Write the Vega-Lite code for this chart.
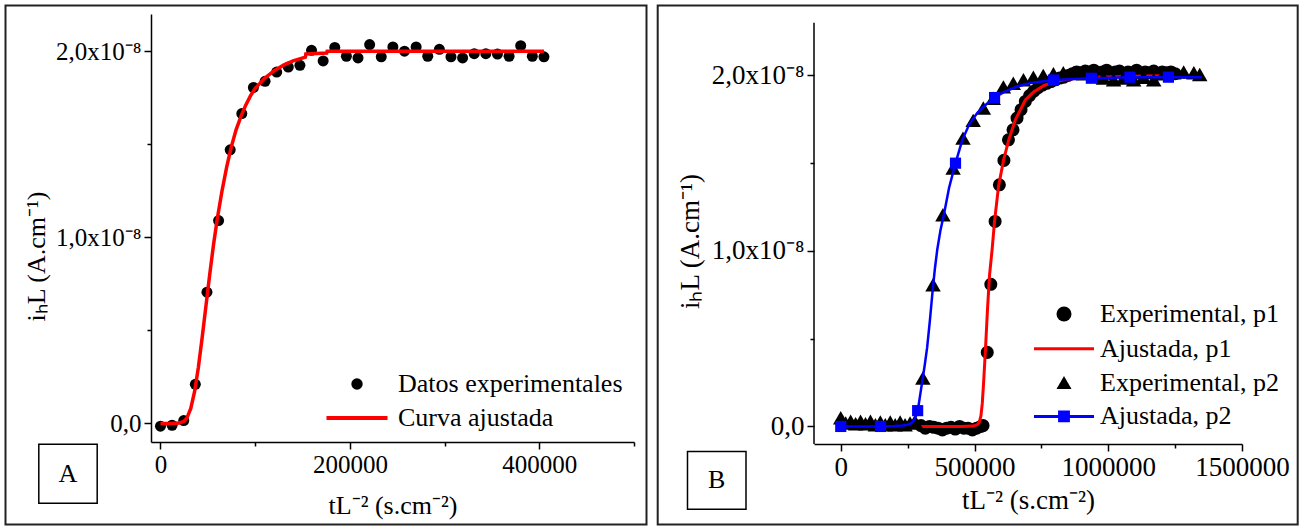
{
  "$schema": "https://vega.github.io/schema/vega-lite/v6.json",
  "padding": {"left": 4, "top": 4, "right": 4, "bottom": 4},
  "spacing": 8,
  "config": {
    "view": {"stroke": null},
    "font": "Liberation Serif",
    "axis": {"labelFont": "Liberation Serif", "titleFont": "Liberation Serif", "labelColor": "black", "titleColor": "black", "titleFontWeight": "normal", "domainColor": "black", "tickColor": "black", "domainWidth": 1.5, "tickWidth": 1.5, "grid": false, "labelFlush": false, "labelOverlap": false, "labelBound": false},
    "legend": {"labelFont": "Liberation Serif", "labelColor": "black", "labelLimit": 0, "padding": 0}
  },
  "datasets": {
    "expA": [
      {"x": 0, "y": -1.5e-10}, {"x": 12270, "y": -1e-10}, {"x": 24540, "y": 1.5e-10}, {"x": 36810, "y": 2.1e-9},
      {"x": 49080, "y": 7.05e-9}, {"x": 61350, "y": 1.09e-8}, {"x": 73620, "y": 1.47e-8}, {"x": 85890, "y": 1.665e-8},
      {"x": 98160, "y": 1.805e-8}, {"x": 110430, "y": 1.838e-8}, {"x": 122700, "y": 1.888e-8}, {"x": 134970, "y": 1.915e-8},
      {"x": 147240, "y": 1.924e-8}, {"x": 159510, "y": 2.005e-8}, {"x": 171780, "y": 1.948e-8}, {"x": 184050, "y": 2.02e-8},
      {"x": 196320, "y": 1.973e-8}, {"x": 208590, "y": 1.964e-8}, {"x": 220860, "y": 2.036e-8}, {"x": 233130, "y": 1.97e-8},
      {"x": 245400, "y": 2.023e-8}, {"x": 257670, "y": 2.0e-8}, {"x": 269940, "y": 2.023e-8}, {"x": 282210, "y": 1.973e-8},
      {"x": 294480, "y": 2.01e-8}, {"x": 306750, "y": 1.97e-8}, {"x": 319020, "y": 1.964e-8}, {"x": 331290, "y": 1.987e-8},
      {"x": 343560, "y": 1.987e-8}, {"x": 355830, "y": 1.985e-8}, {"x": 368100, "y": 1.973e-8}, {"x": 380370, "y": 2.03e-8},
      {"x": 392640, "y": 1.973e-8}, {"x": 404910, "y": 1.97e-8}
    ],
    "fitA": [
      {"x": 0, "y": 0}, {"x": 10000, "y": 0}, {"x": 20000, "y": 2e-11}, {"x": 25000, "y": 1.2e-10}, {"x": 28000, "y": 3e-10},
      {"x": 32000, "y": 8e-10}, {"x": 36000, "y": 1.7e-9}, {"x": 40000, "y": 3e-9}, {"x": 44000, "y": 4.6e-9}, {"x": 48000, "y": 6.3e-9},
      {"x": 52000, "y": 8e-9}, {"x": 56000, "y": 9.6e-9}, {"x": 60000, "y": 1.1e-8}, {"x": 65000, "y": 1.25e-8}, {"x": 70000, "y": 1.38e-8},
      {"x": 75000, "y": 1.49e-8}, {"x": 80000, "y": 1.58e-8}, {"x": 85000, "y": 1.65e-8}, {"x": 90000, "y": 1.71e-8}, {"x": 95000, "y": 1.76e-8},
      {"x": 100000, "y": 1.8e-8}, {"x": 110000, "y": 1.855e-8}, {"x": 120000, "y": 1.895e-8}, {"x": 130000, "y": 1.925e-8},
      {"x": 140000, "y": 1.948e-8}, {"x": 153000, "y": 1.968e-8}, {"x": 153500, "y": 1.985e-8}, {"x": 175500, "y": 1.99e-8},
      {"x": 176000, "y": 2.0e-8}, {"x": 405000, "y": 2.0e-8}
    ],
    "expB1": [
      {"x": 300000, "y": 5e-11}, {"x": 316000, "y": -1e-10}, {"x": 332000, "y": 0}, {"x": 348000, "y": -5e-11},
      {"x": 364000, "y": -1e-10}, {"x": 380000, "y": -2e-10}, {"x": 396000, "y": -1e-10}, {"x": 412000, "y": -5e-11},
      {"x": 428000, "y": -1.5e-10}, {"x": 444000, "y": 0}, {"x": 460000, "y": -1e-10}, {"x": 476000, "y": -1e-10},
      {"x": 492000, "y": -2e-10}, {"x": 508000, "y": -1e-10}, {"x": 524000, "y": 0}, {"x": 532000, "y": 5e-11},
      {"x": 547700, "y": 4.22e-9}, {"x": 561000, "y": 8.1e-9}, {"x": 577000, "y": 1.168e-8}, {"x": 593000, "y": 1.377e-8},
      {"x": 610000, "y": 1.516e-8}, {"x": 627000, "y": 1.633e-8}, {"x": 644000, "y": 1.69e-8}, {"x": 659000, "y": 1.757e-8},
      {"x": 674000, "y": 1.805e-8}, {"x": 690000, "y": 1.852e-8}, {"x": 706000, "y": 1.885e-8}, {"x": 722000, "y": 1.91e-8},
      {"x": 738000, "y": 1.93e-8}, {"x": 754000, "y": 1.945e-8}, {"x": 770000, "y": 1.955e-8}, {"x": 786000, "y": 1.965e-8},
      {"x": 802000, "y": 1.975e-8}, {"x": 818000, "y": 1.985e-8}, {"x": 834000, "y": 1.99e-8}, {"x": 850000, "y": 2.0e-8},
      {"x": 866000, "y": 2.01e-8}, {"x": 882000, "y": 2.02e-8}, {"x": 898000, "y": 2.015e-8}, {"x": 914000, "y": 2.025e-8},
      {"x": 930000, "y": 2.02e-8}, {"x": 946000, "y": 2.03e-8}, {"x": 962000, "y": 2.015e-8}, {"x": 978000, "y": 2.02e-8},
      {"x": 994000, "y": 2.03e-8}, {"x": 1010000, "y": 2.01e-8}, {"x": 1026000, "y": 2.02e-8}, {"x": 1042000, "y": 2.025e-8},
      {"x": 1058000, "y": 2.0e-8}, {"x": 1074000, "y": 2.02e-8}, {"x": 1090000, "y": 2.015e-8}, {"x": 1106000, "y": 2.03e-8},
      {"x": 1122000, "y": 2.01e-8}, {"x": 1138000, "y": 2.02e-8}, {"x": 1154000, "y": 2.015e-8}, {"x": 1170000, "y": 2.025e-8},
      {"x": 1186000, "y": 2.01e-8}, {"x": 1202000, "y": 2.02e-8}, {"x": 1218000, "y": 2.015e-8}, {"x": 1234000, "y": 2.02e-8},
      {"x": 1250000, "y": 2.01e-8}
    ],
    "fitB1": [
      {"x": 300000, "y": 0}, {"x": 450000, "y": 0}, {"x": 495000, "y": 2e-11}, {"x": 510000, "y": 1e-10}, {"x": 518000, "y": 2.5e-10},
      {"x": 524000, "y": 6e-10}, {"x": 529000, "y": 1.3e-9}, {"x": 534000, "y": 2.5e-9}, {"x": 541000, "y": 4.4e-9}, {"x": 548000, "y": 6.5e-9},
      {"x": 556000, "y": 8.6e-9}, {"x": 566000, "y": 1.01e-8}, {"x": 575000, "y": 1.17e-8}, {"x": 590000, "y": 1.37e-8},
      {"x": 609000, "y": 1.52e-8}, {"x": 628000, "y": 1.633e-8}, {"x": 653000, "y": 1.748e-8}, {"x": 690000, "y": 1.86e-8},
      {"x": 720000, "y": 1.905e-8}, {"x": 757000, "y": 1.94e-8}, {"x": 800000, "y": 1.965e-8}, {"x": 850000, "y": 1.98e-8},
      {"x": 950000, "y": 1.99e-8}, {"x": 1100000, "y": 1.995e-8}, {"x": 1250000, "y": 2.0e-8}
    ],
    "expB2": [
      {"x": 0, "y": 5e-10}, {"x": 18500, "y": 2e-10}, {"x": 37000, "y": 3e-10}, {"x": 55500, "y": 1.5e-10},
      {"x": 74000, "y": 3e-10}, {"x": 92500, "y": 1.5e-10}, {"x": 111000, "y": 3e-10}, {"x": 129500, "y": 1e-10},
      {"x": 148000, "y": 2.5e-10}, {"x": 166500, "y": 1e-10}, {"x": 185000, "y": 2.5e-10}, {"x": 203500, "y": 1e-10},
      {"x": 222000, "y": 2.5e-10}, {"x": 240500, "y": 1e-10}, {"x": 259000, "y": 2e-10}, {"x": 277500, "y": 3e-10},
      {"x": 307000, "y": 2.76e-9}, {"x": 345000, "y": 8.07e-9}, {"x": 382000, "y": 1.206e-8}, {"x": 420000, "y": 1.472e-8},
      {"x": 457000, "y": 1.643e-8}, {"x": 495000, "y": 1.744e-8}, {"x": 533000, "y": 1.814e-8}, {"x": 570000, "y": 1.87e-8},
      {"x": 608000, "y": 1.935e-8}, {"x": 645000, "y": 1.955e-8}, {"x": 683000, "y": 1.975e-8}, {"x": 720000, "y": 1.99e-8},
      {"x": 757000, "y": 2.0e-8}, {"x": 795000, "y": 2.01e-8}, {"x": 832000, "y": 2.015e-8}, {"x": 870000, "y": 2.015e-8},
      {"x": 907000, "y": 2.01e-8}, {"x": 945000, "y": 2.0e-8}, {"x": 982000, "y": 1.985e-8}, {"x": 1020000, "y": 1.975e-8},
      {"x": 1057000, "y": 1.985e-8}, {"x": 1095000, "y": 1.975e-8}, {"x": 1132000, "y": 1.99e-8}, {"x": 1170000, "y": 1.975e-8},
      {"x": 1207000, "y": 2.01e-8}, {"x": 1245000, "y": 2.015e-8}, {"x": 1282000, "y": 2.02e-8}, {"x": 1320000, "y": 2.015e-8},
      {"x": 1342000, "y": 2.005e-8}
    ],
    "fitB2": [
      {"x": 0, "y": 0}, {"x": 150000, "y": 0}, {"x": 200000, "y": 2e-11}, {"x": 230000, "y": 6e-11}, {"x": 250000, "y": 1e-10},
      {"x": 265000, "y": 2e-10}, {"x": 274000, "y": 3.8e-10}, {"x": 281000, "y": 6e-10}, {"x": 287500, "y": 9e-10}, {"x": 293000, "y": 1.4e-9},
      {"x": 299000, "y": 2e-9}, {"x": 305000, "y": 2.6e-9}, {"x": 314000, "y": 3.5e-9}, {"x": 323000, "y": 4.5e-9}, {"x": 333000, "y": 6e-9},
      {"x": 342000, "y": 7.5e-9}, {"x": 352000, "y": 9e-9}, {"x": 361000, "y": 1.01e-8}, {"x": 373000, "y": 1.12e-8}, {"x": 386000, "y": 1.21e-8},
      {"x": 405000, "y": 1.36e-8}, {"x": 429000, "y": 1.5e-8}, {"x": 454000, "y": 1.63e-8}, {"x": 480000, "y": 1.72e-8},
      {"x": 510000, "y": 1.786e-8}, {"x": 540000, "y": 1.83e-8}, {"x": 575000, "y": 1.874e-8}, {"x": 610000, "y": 1.905e-8},
      {"x": 659000, "y": 1.937e-8}, {"x": 709000, "y": 1.957e-8}, {"x": 795000, "y": 1.974e-8}, {"x": 937000, "y": 1.984e-8},
      {"x": 1081000, "y": 1.99e-8}, {"x": 1225000, "y": 1.99e-8}, {"x": 1350000, "y": 1.99e-8}
    ],
    "sqB2": [
      {"x": 0, "y": 0}, {"x": 148500, "y": 0}, {"x": 287500, "y": 9e-10}, {"x": 429000, "y": 1.5e-8},
      {"x": 575000, "y": 1.874e-8}, {"x": 795000, "y": 1.974e-8}, {"x": 937000, "y": 1.984e-8}, {"x": 1081000, "y": 1.99e-8},
      {"x": 1225000, "y": 1.99e-8}
    ]
  },
  "hconcat": [
    {
      "width": 483,
      "height": 428,
      "layer": [
        {
          "data": {"name": "expA"},
          "mark": {"type": "point", "filled": true, "opacity": 1, "size": 121, "strokeWidth": 0},
          "encoding": {
            "x": {"field": "x", "type": "quantitative", "scale": {"domain": [-10000, 500000], "nice": false, "zero": false}, "title": "tL⁻² (s.cm⁻²)",
              "axis": {"values": [0, 100000, 200000, 300000, 400000, 500000], "labelExpr": "datum.value % 200000 == 0 ? format(datum.value, 'd') : ''", "tickSize": {"condition": {"test": "datum.value % 200000 == 0", "value": 7}, "value": 4}, "labelFontSize": 25, "titleFontSize": 26, "labelPadding": 3, "titlePadding": 15}},
            "y": {"field": "y", "type": "quantitative", "scale": {"domain": [-1e-9, 2.2e-8], "nice": false, "zero": false}, "title": "iₕL (A.cm⁻¹)",
              "axis": {"values": [0, 5e-9, 1e-8, 1.5e-8, 2e-8], "labelExpr": "abs(datum.value*1e8 - round(datum.value*1e8)) < 0.01 ? (abs(datum.value) < 1e-12 ? '0,0' : replace(format(datum.value*1e8, '.1f'), '.', ',') + 'x10⁻⁸') : ''", "tickSize": {"condition": {"test": "abs(datum.value*1e8 - round(datum.value*1e8)) < 0.01", "value": 7}, "value": 4}, "labelFontSize": 25, "titleFontSize": 26, "labelPadding": 3, "titlePadding": 6, "titleY": 242}},
            "shape": {"datum": "Datos experimentales", "type": "nominal", "scale": {"domain": ["Datos experimentales", "Curva ajustada"], "range": ["circle", "M-5.35,0H5.35"]},
              "legend": {"title": null, "orient": "none", "legendX": 193, "legendY": 357, "symbolSize": 130, "symbolStrokeWidth": 4, "labelFontSize": 26, "labelOffset": 28, "rowPadding": 7}},
            "fill": {"datum": "Datos experimentales", "type": "nominal", "scale": {"domain": ["Datos experimentales", "Curva ajustada"], "range": ["black", "transparent"]},
              "legend": {"title": null, "orient": "none", "legendX": 193, "legendY": 357, "symbolSize": 130, "symbolStrokeWidth": 4, "labelFontSize": 26, "labelOffset": 28, "rowPadding": 7}}
          }
        },
        {
          "data": {"name": "fitA"},
          "mark": {"type": "line", "strokeWidth": 3.5},
          "encoding": {
            "x": {"field": "x", "type": "quantitative", "scale": {"domain": [-10000, 500000], "nice": false, "zero": false}, "title": "tL⁻² (s.cm⁻²)"},
            "y": {"field": "y", "type": "quantitative", "scale": {"domain": [-1e-9, 2.2e-8], "nice": false, "zero": false}, "title": "iₕL (A.cm⁻¹)"},
            "stroke": {"datum": "Curva ajustada", "type": "nominal", "scale": {"domain": ["Datos experimentales", "Curva ajustada"], "range": ["transparent", "red"]},
              "legend": {"title": null, "orient": "none", "legendX": 193, "legendY": 357, "symbolSize": 130, "symbolStrokeWidth": 4, "labelFontSize": 26, "labelOffset": 28, "rowPadding": 7}}
          }
        },
        {
          "data": {"values": [{}]},
          "mark": {"type": "rect", "fill": "transparent", "stroke": "#222222", "strokeWidth": 2},
          "encoding": {
            "x": {"datum": -163630, "type": "quantitative", "title": "tL⁻² (s.cm⁻²)"},
            "x2": {"datum": 513200},
            "y": {"datum": 2.2457e-8, "type": "quantitative", "title": "iₕL (A.cm⁻¹)"},
            "y2": {"datum": -5.433e-9}
          }
        },
        {
          "data": {"values": [{}]},
          "mark": {"type": "rect", "fill": "transparent", "stroke": "black", "strokeWidth": 1.5},
          "encoding": {
            "x": {"datum": -128470, "type": "quantitative", "title": "tL⁻² (s.cm⁻²)"},
            "x2": {"datum": -66810},
            "y": {"datum": -1.118e-9, "type": "quantitative", "title": "iₕL (A.cm⁻¹)"},
            "y2": {"datum": -4.288e-9}
          }
        },
        {
          "data": {"values": [{}]},
          "mark": {"type": "text", "text": "A", "fontSize": 26, "font": "Liberation Serif", "color": "black", "baseline": "middle", "align": "center"},
          "encoding": {
            "x": {"datum": -97640, "type": "quantitative", "title": "tL⁻² (s.cm⁻²)"},
            "y": {"datum": -2.703e-9, "type": "quantitative", "title": "iₕL (A.cm⁻¹)"}
          }
        }
      ]
    },
    {
      "width": 428,
      "height": 430,
      "layer": [
        {
          "data": {"name": "expB1"},
          "mark": {"type": "point", "filled": true, "opacity": 1, "size": 170, "strokeWidth": 0},
          "encoding": {
            "x": {"field": "x", "type": "quantitative", "scale": {"domain": [-100000, 1500000], "nice": false, "zero": false}, "title": "tL⁻² (s.cm⁻²)",
              "axis": {"values": [0, 250000, 500000, 750000, 1000000, 1250000, 1500000], "labelExpr": "datum.value % 500000 == 0 ? format(datum.value, 'd') : ''", "tickSize": {"condition": {"test": "datum.value % 500000 == 0", "value": 7}, "value": 4}, "labelFontSize": 27, "titleFontSize": 27, "labelPadding": 3, "titlePadding": 7}},
            "y": {"field": "y", "type": "quantitative", "scale": {"domain": [-1e-9, 2.35e-8], "nice": false, "zero": false}, "title": "iₕL (A.cm⁻¹)",
              "axis": {"domain": false, "values": [0, 5e-9, 1e-8, 1.5e-8, 2e-8], "labelExpr": "abs(datum.value*1e8 - round(datum.value*1e8)) < 0.01 ? (abs(datum.value) < 1e-12 ? '0,0' : replace(format(datum.value*1e8, '.1f'), '.', ',') + 'x10⁻⁸') : ''", "tickSize": {"condition": {"test": "abs(datum.value*1e8 - round(datum.value*1e8)) < 0.01", "value": 7}, "value": 4}, "labelFontSize": 27, "titleFontSize": 27, "labelPadding": 3, "titlePadding": 7, "titleY": 227}},
            "shape": {"datum": "Experimental, p1", "type": "nominal", "scale": {"domain": ["Experimental, p1", "Ajustada, p1", "Experimental, p2", "Ajustada, p2"], "range": ["circle", "M-4,0H4", "triangle-up", "M-4,0H4M-0.59,-0.59H0.59V0.59H-0.59Z"]},
              "legend": {"title": null, "orient": "none", "legendX": 237, "legendY": 287, "symbolSize": 225, "symbolStrokeWidth": 3, "labelFontSize": 26, "labelOffset": 23, "rowPadding": 7.8}},
            "fill": {"datum": "Experimental, p1", "type": "nominal", "scale": {"domain": ["Experimental, p1", "Ajustada, p1", "Experimental, p2", "Ajustada, p2"], "range": ["black", "transparent", "black", "blue"]},
              "legend": {"title": null, "orient": "none", "legendX": 237, "legendY": 287, "symbolSize": 225, "symbolStrokeWidth": 3, "labelFontSize": 26, "labelOffset": 23, "rowPadding": 7.8}}
          }
        },
        {
          "data": {"name": "fitB1"},
          "mark": {"type": "line", "strokeWidth": 3},
          "encoding": {
            "x": {"field": "x", "type": "quantitative", "scale": {"domain": [-100000, 1500000], "nice": false, "zero": false}, "title": "tL⁻² (s.cm⁻²)"},
            "y": {"field": "y", "type": "quantitative", "scale": {"domain": [-1e-9, 2.35e-8], "nice": false, "zero": false}, "title": "iₕL (A.cm⁻¹)"},
            "stroke": {"datum": "Ajustada, p1", "type": "nominal", "scale": {"domain": ["Experimental, p1", "Ajustada, p1", "Experimental, p2", "Ajustada, p2"], "range": ["transparent", "red", "transparent", "blue"]},
              "legend": {"title": null, "orient": "none", "legendX": 237, "legendY": 287, "symbolSize": 225, "symbolStrokeWidth": 3, "labelFontSize": 26, "labelOffset": 23, "rowPadding": 7.8}}
          }
        },
        {
          "data": {"name": "expB2"},
          "mark": {"type": "point", "filled": true, "opacity": 1, "size": 240, "strokeWidth": 0},
          "encoding": {
            "x": {"field": "x", "type": "quantitative", "scale": {"domain": [-100000, 1500000], "nice": false, "zero": false}, "title": "tL⁻² (s.cm⁻²)"},
            "y": {"field": "y", "type": "quantitative", "scale": {"domain": [-1e-9, 2.35e-8], "nice": false, "zero": false}, "title": "iₕL (A.cm⁻¹)"},
            "shape": {"datum": "Experimental, p2", "type": "nominal"},
            "fill": {"datum": "Experimental, p2", "type": "nominal"}
          }
        },
        {
          "data": {"name": "fitB2"},
          "mark": {"type": "line", "strokeWidth": 2.5},
          "encoding": {
            "x": {"field": "x", "type": "quantitative", "scale": {"domain": [-100000, 1500000], "nice": false, "zero": false}, "title": "tL⁻² (s.cm⁻²)"},
            "y": {"field": "y", "type": "quantitative", "scale": {"domain": [-1e-9, 2.35e-8], "nice": false, "zero": false}, "title": "iₕL (A.cm⁻¹)"},
            "stroke": {"datum": "Ajustada, p2", "type": "nominal"}
          }
        },
        {
          "data": {"name": "sqB2"},
          "mark": {"type": "point", "shape": "square", "filled": true, "opacity": 1, "size": 125, "strokeWidth": 0, "color": "blue"},
          "encoding": {
            "x": {"field": "x", "type": "quantitative", "scale": {"domain": [-100000, 1500000], "nice": false, "zero": false}, "title": "tL⁻² (s.cm⁻²)"},
            "y": {"field": "y", "type": "quantitative", "scale": {"domain": [-1e-9, 2.35e-8], "nice": false, "zero": false}, "title": "iₕL (A.cm⁻¹)"}
          }
        },
        {
          "data": {"values": [{}]},
          "mark": {"type": "rule", "color": "black", "strokeWidth": 1.5},
          "encoding": {
            "x": {"datum": -100000, "type": "quantitative", "title": "tL⁻² (s.cm⁻²)"},
            "y": {"datum": -1e-9, "type": "quantitative", "title": "iₕL (A.cm⁻¹)"},
            "y2": {"datum": 2.3e-8}
          }
        },
        {
          "data": {"values": [{}]},
          "mark": {"type": "rect", "fill": "transparent", "stroke": "#222222", "strokeWidth": 2},
          "encoding": {
            "x": {"datum": -684300, "type": "quantitative", "title": "tL⁻² (s.cm⁻²)"},
            "x2": {"datum": 1708200},
            "y": {"datum": 2.3984e-8, "type": "quantitative", "title": "iₕL (A.cm⁻¹)"},
            "y2": {"datum": -5.587e-9}
          }
        },
        {
          "data": {"values": [{}]},
          "mark": {"type": "rect", "fill": "transparent", "stroke": "black", "strokeWidth": 1.5},
          "encoding": {
            "x": {"datum": -572900, "type": "quantitative", "title": "tL⁻² (s.cm⁻²)"},
            "x2": {"datum": -354200},
            "y": {"datum": -1.427e-9, "type": "quantitative", "title": "iₕL (A.cm⁻¹)"},
            "y2": {"datum": -4.72e-9}
          }
        },
        {
          "data": {"values": [{}]},
          "mark": {"type": "text", "text": "B", "fontSize": 26, "font": "Liberation Serif", "color": "black", "baseline": "middle", "align": "center"},
          "encoding": {
            "x": {"datum": -463550, "type": "quantitative", "title": "tL⁻² (s.cm⁻²)"},
            "y": {"datum": -3.074e-9, "type": "quantitative", "title": "iₕL (A.cm⁻¹)"}
          }
        }
      ]
    }
  ],
  "resolve": {
    "scale": {"x": "independent", "y": "independent", "fill": "independent", "stroke": "independent", "shape": "independent"},
    "legend": {"fill": "independent", "stroke": "independent", "shape": "independent"}
  }
}
